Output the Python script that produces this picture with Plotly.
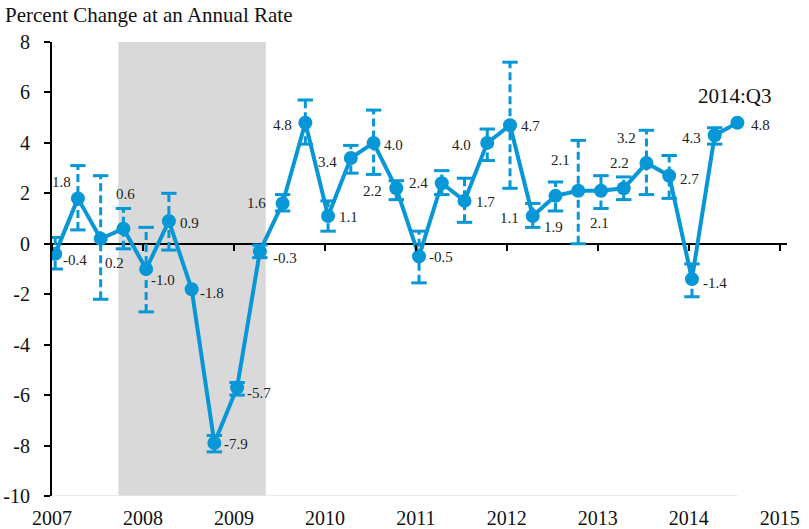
import plotly.graph_objs as go

# real GDP growth, quarterly, with range of estimates
quarters = ["2007Q1", "2007Q2", "2007Q3", "2007Q4",
            "2008Q1", "2008Q2", "2008Q3", "2008Q4",
            "2009Q1", "2009Q2", "2009Q3", "2009Q4",
            "2010Q1", "2010Q2", "2010Q3", "2010Q4",
            "2011Q1", "2011Q2", "2011Q3", "2011Q4",
            "2012Q1", "2012Q2", "2012Q3", "2012Q4",
            "2013Q1", "2013Q2", "2013Q3", "2013Q4",
            "2014Q1", "2014Q2", "2014Q3"]
growth = [-0.4, 1.8, 0.2, 0.6,
          -1.0, 0.9, -1.8, -7.9,
          -5.7, -0.3, 1.6, 4.8,
          1.1, 3.4, 4.0, 2.2,
          -0.5, 2.4, 1.7, 4.0,
          4.7, 1.1, 1.9, 2.1,
          2.1, 2.2, 3.2, 2.7,
          -1.4, 4.3, 4.8]
range_low = [-1.0, 0.55, -2.2, -0.2,
             -2.7, -0.25, None, -8.25,
             -6.0, -0.55, 1.3, 3.95,
             0.5, 2.8, 2.75, 1.75,
             -1.55, 1.95, 0.85, 3.3,
             2.2, 0.65, 1.3, 0.0,
             1.4, 1.75, 1.95, 1.8,
             -2.1, 3.95, None]
range_high = [0.25, 3.1, 2.7, 1.4,
              0.65, 2.0, None, -7.6,
              -5.5, -0.05, 1.95, 5.7,
              1.7, 3.9, 5.3, 2.5,
              0.5, 2.9, 2.6, 4.55,
              7.2, 1.6, 2.45, 4.1,
              2.7, 2.65, 4.5, 3.5,
              -0.8, 4.6, None]
years = [2007, 2008, 2009, 2010, 2011, 2012, 2013, 2014, 2015]
y_ticks = [-10, -8, -6, -4, -2, 0, 2, 4, 6, 8]
recession_start = 2007.73
recession_end = 2009.35
last_label = "2014:Q3"

# label offsets in pixels (dx, dy down)
label_off = [(20, 6), (-16, -16), (14, 24), (2, -35),
             (17, 11), (21, 2), (20, 4), (22, 1),
             (22, 5), (25, 7), (-26, 0), (-23, 2),
             (20, 1), (-23, 4), (20, 2), (-24, 3),
             (22, 1), (-23, 0), (21, 1), (-26, 2),
             (20, 1), (-23, 2), (-2, 31), (-18, -31),
             (-1, 32), (-4, -25), (-20, -25), (20, 3),
             (23, 4), (-23, 3), (23, 2)]

BLUE = "#0797d7"
FONT = "Liberation Serif"

x = [int(q[:4]) + (int(q[-1]) - 1) / 4 + 0.035 for q in quarters]

ex, ey, cx, cy = [], [], [], []
for xi, lo, hi in zip(x, range_low, range_high):
    if lo is None:
        continue
    ex += [xi, xi, None]
    ey += [lo, hi, None]
    cx += [xi, xi]
    cy += [lo, hi]

yr = [-10, 8]
xr = [2007, 2015.08]

fig = go.Figure()
fig.add_trace(go.Scatter(x=ex, y=ey, mode="lines",
                         line=dict(color=BLUE, width=3, dash="8px,4px"),
                         hoverinfo="skip", showlegend=False))
fig.add_trace(go.Scatter(x=cx, y=cy, mode="markers", xaxis="x2",
                         marker=dict(symbol="line-ew", size=11,
                                     line=dict(color=BLUE, width=3)),
                         hoverinfo="skip", showlegend=False))
fig.add_trace(go.Scatter(x=x, y=growth, mode="lines+markers",
                         line=dict(color=BLUE, width=4),
                         marker=dict(color=BLUE, size=14),
                         text=quarters, showlegend=False))

for xi, v, (dx, dy) in zip(x, growth, label_off):
    fig.add_annotation(x=xi, y=v, text="%.1f" % v, showarrow=False,
                       xshift=dx, yshift=-dy,
                       font=dict(family=FONT, size=15, color="#222222"))
fig.add_annotation(x=x[-1], y=growth[-1], text=last_label, showarrow=False,
                   xshift=-2, yshift=27,
                   font=dict(family=FONT, size=21, color="#111111"))

fig.add_shape(type="rect", xref="x", yref="y", x0=recession_start, x1=recession_end,
              y0=yr[0], y1=yr[1], fillcolor="#d9d9d9", line_width=0, layer="below")
fig.add_shape(type="line", xref="x", yref="y", x0=x[0], x1=x[-1], y0=yr[0], y1=yr[0],
              line=dict(color="#e4e4e4", width=1.5), layer="below")

fig.update_layout(
    width=809, height=529,
    margin=dict(l=52, r=22, t=42, b=33),
    paper_bgcolor="white", plot_bgcolor="white",
    font=dict(family=FONT, color="#111111"),
    title=dict(text="Percent Change at an Annual Rate", xref="container", x=5 / 809,
               xanchor="left", y=1 - 15 / 529, yanchor="middle",
               font=dict(family=FONT, size=21, color="#111111")),
    xaxis=dict(range=xr, tickvals=years, ticktext=[str(y) for y in years],
               showgrid=False, zeroline=False, showline=False, ticks="",
               automargin=False, ticklabelstandoff=8, tickfont=dict(size=20)),
    xaxis2=dict(range=xr, overlaying="x", anchor="free", automargin=False,
                position=(0 - yr[0]) / (yr[1] - yr[0]),
                tickvals=years, showticklabels=False, ticks="outside",
                ticklen=6, tickwidth=2, tickcolor="black",
                showgrid=False, zeroline=False, showline=False),
    yaxis=dict(range=yr, tickvals=y_ticks, ticktext=[str(v) for v in y_ticks],
               showgrid=False, automargin=False,
               zeroline=True, zerolinecolor="black", zerolinewidth=2,
               showline=True, linecolor="black", linewidth=2,
               ticks="outside", ticklen=6, tickwidth=2, tickcolor="black",
               ticklabelstandoff=10, tickfont=dict(size=20)),
)

# page has a default 8px body margin; drop it so the figure fills the window
fig.write_html("out.html", config={"displayModeBar": False},
               post_script="document.body.style.margin='0';")
